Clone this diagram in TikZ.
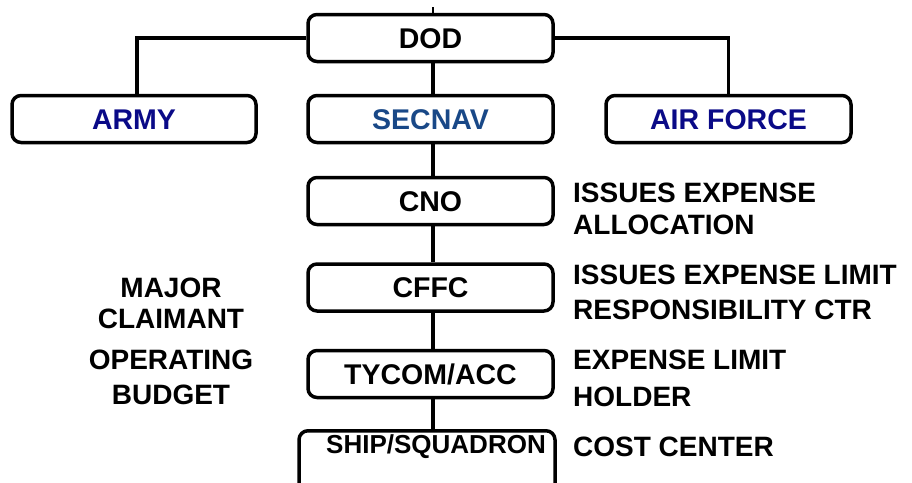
\documentclass[tikz,border=0pt]{standalone}
\usepackage{fontspec}
\setmainfont{Liberation Sans}
\definecolor{navy}{RGB}{10,10,135}
\definecolor{navblue}{RGB}{25,72,135}
\begin{document}
\begin{tikzpicture}[x=1pt,y=-1pt]
\tikzset{
  orgbox/.style={draw, line width=3.5pt, rounded corners=9pt, minimum width=245pt,
    minimum height=47pt, inner sep=0pt, text height=20.5pt, text depth=0pt,
    font=\fontsize{28.5}{30}\selectfont\bfseries},
  link/.style={line width=3.5pt},
  note/.style={inner sep=0pt, font=\fontsize{28}{34}\selectfont\bfseries, align=left, anchor=north west},
  lnote/.style={inner sep=0pt, font=\fontsize{28}{33}\selectfont\bfseries, align=center, anchor=north},
}
\useasboundingbox (0,0) rectangle (912,482);
\clip (0,0) rectangle (912,482);

\node[orgbox] (dod) at (430.5,38) {DOD};
\node[orgbox, text=navy, minimum width=244pt] (army) at (134,119) {ARMY};
\node[orgbox, text=navblue] (secnav) at (430.5,119) {SECNAV};
\node[orgbox, text=navy] (af) at (728.5,119) {AIR FORCE};
\node[orgbox] (cno) at (430.5,201) {CNO};
\node[orgbox] (cffc) at (430.5,287.5) {CFFC};
\node[orgbox] (tycom) at (430.5,374) {TYCOM/ACC};
\node[orgbox, minimum width=256pt, minimum height=80pt, anchor=north] (ship) at (427,429) {};
\node[inner sep=0pt, text height=19pt, text depth=0pt, font=\fontsize{26}{30}\selectfont\bfseries] (shiptext) at (436,444) {SHIP/SQUADRON};

\coordinate (tick) at (433,7);
\draw[line width=2.5pt] (tick) -- (tick |- dod.north);
\draw[link] (dod.west) -| ([xshift=3pt]army.north);
\draw[link] (dod.east) -| (af.north);
\draw[link] ([xshift=2.5pt]dod.south) -- ([xshift=2.5pt]secnav.north);
\draw[link] ([xshift=2.5pt]secnav.south) -- ([xshift=2.5pt]cno.north);
\draw[link] ([xshift=2.5pt]cno.south) -- ([xshift=2.5pt]cffc.north);
\draw[link] ([xshift=2.5pt]cffc.south) -- ([xshift=2.5pt]tycom.north);
\draw[link] ([xshift=2.5pt]tycom.south) -- ([xshift=2.5pt]tycom.south |- ship.north);

\node[note, font=\fontsize{28}{32}\selectfont\bfseries] (n1) at (573,183) {ISSUES EXPENSE\\ALLOCATION};
\node[note, font=\fontsize{28}{35}\selectfont\bfseries] (n2) at (573,265) {ISSUES EXPENSE LIMIT\\RESPONSIBILITY CTR};
\node[note, font=\fontsize{28}{37}\selectfont\bfseries] (n3) at (573,350) {EXPENSE LIMIT\\HOLDER};
\node[note] (n4) at (573,437) {COST CENTER};

\node[lnote, font=\fontsize{28}{31}\selectfont\bfseries] (l1) at (171,278) {MAJOR\\CLAIMANT};
\node[lnote, font=\fontsize{28}{35}\selectfont\bfseries] (l2) at (171,350) {OPERATING\\BUDGET};
\end{tikzpicture}
\end{document}
